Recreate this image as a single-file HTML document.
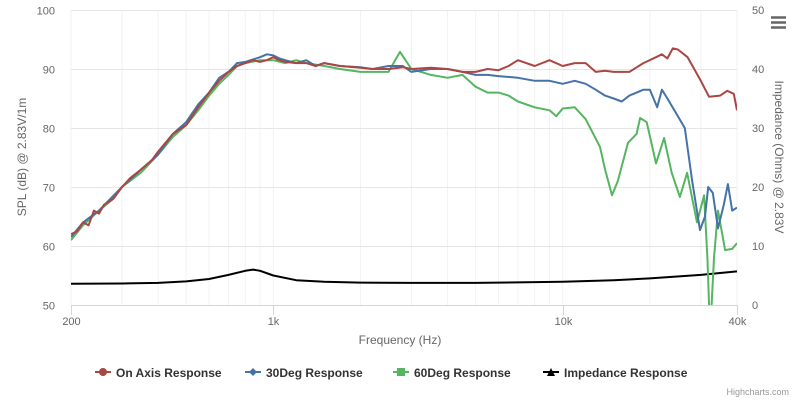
<!DOCTYPE html>
<html><head><meta charset="utf-8">
<style>
body{margin:0;background:#fff;font-family:"Liberation Sans",sans-serif;}
svg{display:block}
text{font-family:"Liberation Sans",sans-serif;}
</style></head>
<body>
<svg id="chart" width="800" height="400" xmlns="http://www.w3.org/2000/svg">
<rect width="800" height="400" fill="#fff"/>
<g id="grid"></g>
<g id="axes"></g>
<g id="series"></g>
<text x="400" y="344" font-size="12" fill="#666" text-anchor="middle">Frequency (Hz)</text>
<text x="0" y="0" font-size="12" fill="#666" text-anchor="middle" transform="translate(26,157) rotate(-90)">SPL (dB) @ 2.83V/1m</text>
<text x="0" y="0" font-size="12" fill="#666" text-anchor="middle" transform="translate(775,157) rotate(90)">Impedance (Ohms) @ 2.83V</text>
<g>
<rect x="770" y="15" width="18" height="16" fill="#fff"/>
<path d="M771 17.5h15M771 22.5h15M771 27.5h15" stroke="#666" stroke-width="2.5"/>
</g>
<g id="legend"></g>
<text x="789" y="395" font-size="9" fill="#999" text-anchor="end">Highcharts.com</text>
</svg>
<script>
const onFreq=[200,210,220,230,240,250,260,270,280,300,320,350,380,400,450,500,550,600,650,700,750,800,850,900,950,1000,1050,1100,1200,1300,1400,1500,1700,2000,2200,2500,2800,3000,3500,4000,4500,5000,5500,6000,6500,7000,8000,9000,10000,11000,12000,13000,14000,15000,17000,19000,21000,22000,23000,24000,25000,27000,30000,32000,35000,37000,39000,40000];
const onVals=[62,62.5,64,63.5,66,65.5,67,67.5,68,70,71.5,73,74.5,76,79,80.5,83.5,86,88,89.5,90.5,91,91.5,91.2,91.5,92,91.5,91.2,91,91,90.5,91,90.5,90.2,90,90,90.3,90,90.2,90,89.5,89.5,90,89.8,90.5,91.5,90.5,91.5,90.5,91,91,89.5,89.7,89.5,89.5,91,92,92.5,91.8,93.5,93.3,92,88,85.3,85.5,86.3,85.8,83];
const d30Freq=[200,220,250,280,300,350,400,450,500,550,600,650,700,750,800,900,950,1000,1050,1100,1200,1300,1400,1500,1700,2000,2200,2500,2800,3000,3500,4000,4500,5000,5500,6000,7000,8000,9000,10000,11000,12000,13000,14000,15000,16000,17000,19000,20000,21200,22000,23000,25000,26400,28000,29800,31000,31800,33000,34400,36000,37200,38500,40000];
const d30Vals=[61.5,64,66,68.5,70,73,75.5,79,81,84,86,88.5,89.5,91,91.2,92,92.5,92.3,91.8,91.5,91,91.5,90.5,91,90.5,90.3,90,90.5,90.5,89.5,90,90,89.5,89,89,88.8,88.5,88,88,87.5,88,87.5,86.5,85.5,85,84.5,85.5,86.5,86.5,83.5,86.5,85,82,80,71,62.7,65,70,69,63,67,70.5,66,66.5];
const d60Freq=[200,220,250,280,300,350,400,450,500,550,600,650,700,750,800,900,1000,1100,1200,1300,1500,1700,2000,2200,2500,2740,3000,3500,4000,4500,5000,5500,6000,6500,7000,8000,9000,9500,10000,11000,11500,12000,13450,14000,14800,15500,16800,18000,18500,19500,21000,22400,23800,25400,26900,29100,30800,31600,32300,33300,34400,36400,38500,40000];
const d60Vals=[61,63.5,66,68,70,72.5,75.5,78.5,80.5,83,85.5,87.5,89,90.5,91,91.5,91.5,91,91.5,91,90.5,90,89.5,89.5,89.5,92.9,90,89,88.5,89,87,86,86,85.5,84.5,83.5,83,82,83.3,83.5,82.5,81.5,76.8,73,68.6,71,77.5,79,81.7,81,74,78.3,72.4,68.3,72.4,64,68.6,58,45,58,66,59.3,59.5,60.5];
const impFreq=[200,300,400,500,600,700,800,850,900,1000,1200,1500,2000,3000,5000,10000,15000,20000,30000,40000];
const impVals=[3.6,3.65,3.75,4.0,4.4,5.1,5.8,6.0,5.8,5.0,4.2,3.95,3.8,3.75,3.75,3.95,4.2,4.5,5.1,5.7];

const X0=71,X1=737,Y0=305,Y1=10;
const lmin=Math.log10(200),lmax=Math.log10(40000);
const xs=f=>X0+(Math.log10(f)-lmin)/(lmax-lmin)*(X1-X0);
const yL=v=>Y0-(v-50)/50*(Y0-Y1);
const yR=v=>Y0-v/50*(Y0-Y1);
const NS="http://www.w3.org/2000/svg";
function mk(tag,attrs,parent){const e=document.createElementNS(NS,tag);for(const k in attrs)e.setAttribute(k,attrs[k]);parent.appendChild(e);return e;}
const grid=document.getElementById('grid'),axes=document.getElementById('axes'),series=document.getElementById('series');
// minor vertical grid
for(let d=100;d<=10000;d*=10){for(let m=1;m<10;m++){const f=d*m;if(f<200||f>40000)continue;const l=mk('line',{x1:xs(f),x2:xs(f),y1:Y1,y2:Y0,stroke:'#f2f2f2','stroke-width':1},grid);

}}
// horizontal grid + left labels
const leftTicks=[50,60,70,80,90,100];
const rightTicks=[0,10,20,30,40,50];
leftTicks.forEach(v=>{const y=Math.round(yL(v))+0.5;
const l=mk('line',{x1:X0,x2:X1,y1:y,y2:y,stroke:'#e6e6e6','stroke-width':1},grid);


const t=mk('text',{x:55,y:y+4,'font-size':11,fill:'#666','text-anchor':'end'},axes);t.textContent=v;

});
rightTicks.forEach(v=>{const t=mk('text',{x:752,y:yR(v)+4,'font-size':11,fill:'#666','text-anchor':'start'},axes);t.textContent=v;

});
const xa=mk('line',{x1:X0,x2:X1,y1:305.5,y2:305.5,stroke:'#ccd6eb','stroke-width':1},axes);


const xTickVals=[200,1000,10000,40000];
const xTickLabels=['200','1k','10k','40k'];
xTickVals.forEach((f,i)=>{const x=Math.round(xs(f))+0.5;
const tk=mk('line',{x1:x,x2:x,y1:305,y2:315,stroke:'#ccd6eb','stroke-width':1},axes);


const t=mk('text',{x:x,y:325,'font-size':11,fill:'#666','text-anchor':'middle'},axes);t.textContent=xTickLabels[i];

});
// clip
const defs=mk('defs',{},series);const cp=mk('clipPath',{id:'plot'},defs);mk('rect',{x:X0,y:Y1,width:X1-X0,height:Y0-Y1},cp);
function line(fr,vals,yf,color,name){const pts=fr.map((f,i)=>xs(f).toFixed(1)+','+yf(vals[i]).toFixed(1)).join(' ');
const p=mk('polyline',{points:pts,fill:'none',stroke:color,'stroke-width':2,'stroke-linejoin':'round','clip-path':'url(#plot)'},series);

}
line(impFreq,impVals,yR,'#000','impedance-response-line');
line(d60Freq,d60Vals,yL,'#55b560','60deg-response-line');
line(d30Freq,d30Vals,yL,'#4572a7','30deg-response-line');
line(onFreq,onVals,yL,'#aa4643','on-axis-response-line');
// legend
const leg=document.getElementById('legend');
const items=[['On Axis Response','#aa4643','circle',95],['30Deg Response','#4572a7','diamond',245],['60Deg Response','#55b560','square',393],['Impedance Response','#000','triangle',543]];
items.forEach(([lab,c,shape,x])=>{const g=mk('g',{},leg);


mk('line',{x1:x,x2:x+16,y1:372,y2:372,stroke:c,'stroke-width':2},g);
const cx=x+8,cy=372;
if(shape==='circle')mk('circle',{cx,cy,r:4,fill:c},g);
else if(shape==='diamond')mk('path',{d:`M${cx} ${cy-4}L${cx+4} ${cy}L${cx} ${cy+4}L${cx-4} ${cy}Z`,fill:c},g);
else if(shape==='square')mk('rect',{x:cx-4,y:cy-4,width:8,height:8,fill:c},g);
else mk('path',{d:`M${cx} ${cy-4}L${cx+4} ${cy+4}L${cx-4} ${cy+4}Z`,fill:c},g);
const t=mk('text',{x:x+21,y:377,'font-size':12,'font-weight':'bold',fill:'#333'},g);t.textContent=lab;});
</script>
</body></html>
